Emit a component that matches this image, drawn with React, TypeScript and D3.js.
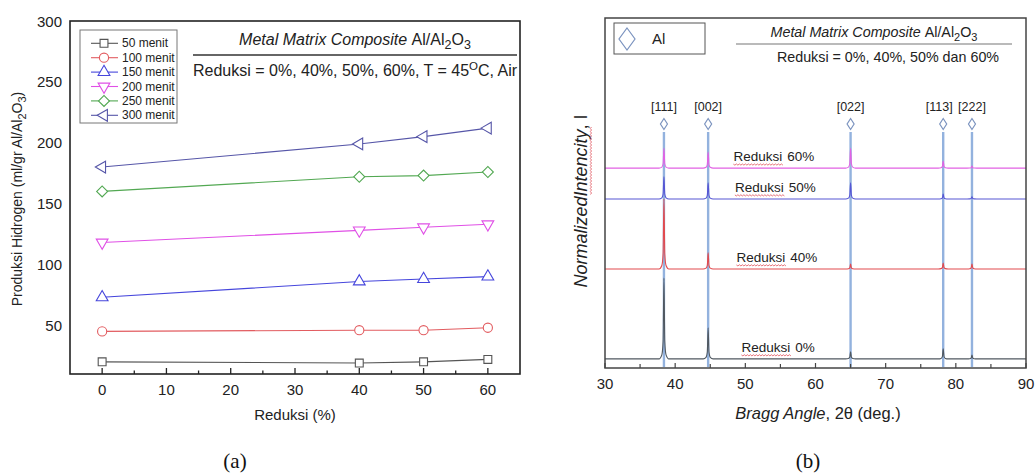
import React from 'react';
import * as d3 from 'd3';

// ---- (a) hydrogen production vs reduction ----
const reduksi = [0, 40, 50, 60];
const seriesNames = ['50 menit', '100 menit', '150 menit', '200 menit', '250 menit', '300 menit'];
const hidrogen50 = [20, 19, 20, 22];
const hidrogen100 = [45, 46, 46, 48];
const hidrogen150 = [73, 86, 88, 90];
const hidrogen200 = [118, 128, 130.5, 133];
const hidrogen250 = [160, 172, 173, 176];
const hidrogen300 = [180, 199, 205, 212];
const yTicksA = [50, 100, 150, 200, 250, 300];
const xTicksA = [0, 10, 20, 30, 40, 50, 60];

// ---- (b) XRD patterns ----
const peakAngles = [38.4, 44.7, 65.0, 78.2, 82.3];
const peakLabels = ['[111]', '[002]', '[022]', '[113]', '[222]'];
const patternNames = ['60%', '50%', '40%', '0%'];
const patternBaselines = [57.1, 48.3, 28.3, 2.6];
const peaks60 = [5.7, 4.6, 5.7, 2.0, 0.6];
const peaks50 = [6.3, 4.6, 4.6, 1.4, 0.6];
const peaks40 = [20, 4.6, 1.4, 1.7, 1.4];
const peaks0 = [23.1, 8.9, 2.0, 2.9, 1.1];
const xTicksB = [30, 40, 50, 60, 70, 80, 90];

const seriesA = [hidrogen50, hidrogen100, hidrogen150, hidrogen200, hidrogen250, hidrogen300];
const colorsA = ['#555555', '#e25c60', '#4646dc', '#e050e6', '#52a852', '#5656a8'];
const symbolsA = [
  { type: d3.symbolSquare, rot: 0, size: 62 },
  { type: d3.symbolCircle, rot: 0, size: 66 },
  { type: d3.symbolTriangle, rot: 0, size: 60 },
  { type: d3.symbolTriangle, rot: 180, size: 60 },
  { type: d3.symbolSquare, rot: 45, size: 60 },
  { type: d3.symbolTriangle, rot: -90, size: 60 },
];
const patterns = [peaks60, peaks50, peaks40, peaks0];
const colorsB = ['#e262e4', '#5656d4', '#e24a4e', '#505860'];
// narrow peak profile (offset in deg, fraction of peak height)
const profile: [number, number][] = [
  [-0.7, 0], [-0.3, 0.05], [-0.12, 0.22], [0, 1], [0.12, 0.22], [0.3, 0.05], [0.7, 0],
];
const labelShift = [0, 0, 0, -4, 0];

const FONT = '"Liberation Sans", Arial, sans-serif';
const SERIF = '"Liberation Serif", "Times New Roman", serif';

// red spell-check squiggle
function wavy(x: number, y: number, w: number) {
  let d = `M${x},${y}`;
  for (let i = 1; i * 1.5 <= w; i++) d += ` L${x + i * 1.5},${y + (i % 2 ? 1 : -0.2)}`;
  return d;
}

export default function App() {
  // panel (a)
  const xA = d3.scaleLinear().domain([-5, 65]).range([70, 520]);
  const yA = d3.scaleLinear().domain([10, 300]).range([374, 21]);
  const lineA = d3
    .line<number>()
    .x((d, i) => xA(reduksi[i]))
    .y((d) => yA(d));
  const minorA = d3.range(5, 60, 10);

  // panel (b)
  const xB = d3.scaleLinear().domain([30, 90]).range([605, 1026]);
  const yB = d3.scaleLinear().domain([0, 100]).range([368, 18]);
  const lineB = d3
    .line<[number, number]>()
    .x((d) => xB(d[0]))
    .y((d) => yB(d[1]))
    .curve(d3.curveMonotoneX);
  const minorB = d3.range(35, 90, 10);

  function patternPoints(base: number, heights: number[]): [number, number][] {
    const pts: [number, number][] = [[30, base]];
    peakAngles.forEach((p, i) => {
      profile.forEach(([dx, f]) => pts.push([p + dx, base + f * heights[i]]));
    });
    pts.push([90, base]);
    return pts;
  }

  const sym = (s: { type: d3.SymbolType; size: number }) => d3.symbol().type(s.type).size(s.size)() as string;

  return (
    <svg
      width={1035}
      height={473}
      style={{ position: 'absolute', left: 0, top: 0, background: '#fff', fontFamily: FONT }}
    >
      {/* ================= (a) ================= */}
      <g>
        {seriesA.map((s, k) => (
          <g key={k}>
            <path d={lineA(s) as string} fill="none" stroke={colorsA[k]} strokeWidth={1.1} />
            {s.map((v, i) => (
              <path
                key={i}
                d={sym(symbolsA[k])}
                transform={`translate(${xA(reduksi[i])},${yA(v)}) rotate(${symbolsA[k].rot})`}
                fill="#fff"
                stroke={colorsA[k]}
                strokeWidth={1.1}
              />
            ))}
          </g>
        ))}
        <rect x={70} y={21} width={450} height={353} fill="none" stroke="#222" strokeWidth={1.6} />
        {xTicksA.map((t) => (
          <g key={t}>
            <line x1={xA(t)} x2={xA(t)} y1={374} y2={368} stroke="#222" strokeWidth={1.3} />
            <text x={xA(t)} y={389} textAnchor="middle" dominantBaseline="central" fontSize={15} fill="#222">
              {t}
            </text>
          </g>
        ))}
        {minorA.map((t) => (
          <line key={t} x1={xA(t)} x2={xA(t)} y1={374} y2={370.5} stroke="#222" strokeWidth={1.3} />
        ))}
        {yTicksA.map((t) => (
          <text key={t} x={62} y={yA(t)} textAnchor="end" dominantBaseline="central" fontSize={15} fill="#222">
            {t}
          </text>
        ))}
        <text x={295} y={420} textAnchor="middle" fontSize={15} fill="#222">
          Reduksi (%)
        </text>
        <text transform="translate(22,199) rotate(-90)" textAnchor="middle" fontSize={14} fill="#222">
          Produksi Hidrogen (ml/gr Al/Al
          <tspan dy={4} fontSize={11}>2</tspan>
          <tspan dy={-4}>O</tspan>
          <tspan dy={4} fontSize={11}>3</tspan>
          <tspan dy={-4}>)</tspan>
        </text>

        {/* legend */}
        <rect x={80} y={30} width={97} height={93} fill="#fff" stroke="#777" strokeWidth={1} />
        {seriesNames.map((n, k) => {
          const y = 43.3 + k * 14.4;
          return (
            <g key={n}>
              <line x1={91} x2={118} y1={y} y2={y} stroke={colorsA[k]} strokeWidth={1.1} />
              <path
                d={sym(symbolsA[k])}
                transform={`translate(104,${y}) rotate(${symbolsA[k].rot})`}
                fill="#fff"
                stroke={colorsA[k]}
                strokeWidth={1.1}
              />
              <text x={122} y={y} dominantBaseline="central" fontSize={12} fill="#222">
                {n}
              </text>
            </g>
          );
        })}

        {/* title block */}
        <text x={355} y={45} textAnchor="middle" fontSize={16} fill="#222">
          <tspan fontStyle="italic">Metal Matrix Composite </tspan>Al/Al
          <tspan dy={4} fontSize={12.5}>2</tspan>
          <tspan dy={-4}>O</tspan>
          <tspan dy={4} fontSize={12.5}>3</tspan>
        </text>
        <line x1={193} x2={517} y1={55} y2={55} stroke="#333" strokeWidth={1.3} />
        <text x={193} y={76} fontSize={16} fill="#222">
          Reduksi = 0%, 40%, 50%, 60%, T = 45<tspan dy={-6} fontSize={11.5}>O</tspan>
          <tspan dy={6}>C, Air</tspan>
        </text>

        <text x={235} y={468} textAnchor="middle" fontSize={21} fontFamily={SERIF} fill="#111">
          (a)
        </text>
      </g>

      {/* ================= (b) ================= */}
      <g>
        {peakAngles.map((p, i) => (
          <g key={p}>
            <line x1={xB(p)} x2={xB(p)} y1={132} y2={367} stroke="#93b2de" strokeWidth={2.4} />
            <path
              d={`M${xB(p)},${118.5} L${xB(p) + 3.5},${124} L${xB(p)},${129.5} L${xB(p) - 3.5},${124} Z`}
              fill="none"
              stroke="#7b93bf"
              strokeWidth={1.2}
            />
            <text
              x={xB(p) + labelShift[i]}
              y={107}
              textAnchor="middle"
              dominantBaseline="central"
              fontSize={12.5}
              fill="#222"
            >
              {peakLabels[i]}
            </text>
          </g>
        ))}
        {patterns.map((h, k) => (
          <path
            key={k}
            d={lineB(patternPoints(patternBaselines[k], h)) as string}
            fill="none"
            stroke={colorsB[k]}
            strokeWidth={1.1}
          />
        ))}
        {patternNames.map((n, k) => {
          const x = xB(48.3) + (k === 3 ? 8 : k * 1.5);
          const y = yB(patternBaselines[k]) - 7;
          return (
            <g key={n}>
              <text x={x} y={y} fontSize={13.5} fill="#222">
                Reduksi<tspan dx={5}>{n}</tspan>
              </text>
              <path d={wavy(x, y + 3, 50)} fill="none" stroke="#e0505a" strokeWidth={0.8} />
            </g>
          );
        })}
        <rect x={605} y={18} width={421} height={350} fill="none" stroke="#444" strokeWidth={1.5} />
        {xTicksB.map((t) => (
          <g key={t}>
            <line x1={xB(t)} x2={xB(t)} y1={368} y2={363} stroke="#444" strokeWidth={1.2} />
            <text x={xB(t)} y={383} textAnchor="middle" dominantBaseline="central" fontSize={15} fill="#222">
              {t}
            </text>
          </g>
        ))}
        {minorB.map((t) => (
          <line key={t} x1={xB(t)} x2={xB(t)} y1={368} y2={364} stroke="#444" strokeWidth={1.2} />
        ))}
        <text x={818} y={419} textAnchor="middle" fontSize={16.5} fill="#222">
          <tspan fontStyle="italic">Bragg Angle</tspan>, 2θ (deg.)
        </text>
        <g transform="translate(587,201) rotate(-90)">
          <text x={-86.5} y={0} fontSize={18} fill="#222">
            <tspan fontStyle="italic">NormalizedIntencity</tspan>, I
          </text>
          <path d={wavy(6.5, 3.5, 68)} fill="none" stroke="#e0505a" strokeWidth={0.8} />
        </g>

        {/* legend */}
        <rect x={614} y={23} width={91} height={31} fill="#fff" stroke="#555" strokeWidth={1} />
        <path d="M627,28 L635,39 L627,50 L619,39 Z" fill="none" stroke="#7b93bf" strokeWidth={1.2} />
        <text x={652} y={38} dominantBaseline="central" fontSize={15} fill="#222">
          Al
        </text>

        {/* title block */}
        <text x={874} y={37} textAnchor="middle" fontSize={14.3} fill="#222">
          <tspan fontStyle="italic">Metal Matrix Composite </tspan>Al/Al
          <tspan dy={4} fontSize={11}>2</tspan>
          <tspan dy={-4}>O</tspan>
          <tspan dy={4} fontSize={11}>3</tspan>
        </text>
        <line x1={736} x2={1012} y1={44} y2={44} stroke="#777" strokeWidth={1.2} />
        <text x={888} y={62} textAnchor="middle" fontSize={14.3} fill="#222">
          Reduksi = 0%, 40%, 50% dan 60%
        </text>

        <text x={808} y={468} textAnchor="middle" fontSize={21} fontFamily={SERIF} fill="#111">
          (b)
        </text>
      </g>
    </svg>
  );
}
